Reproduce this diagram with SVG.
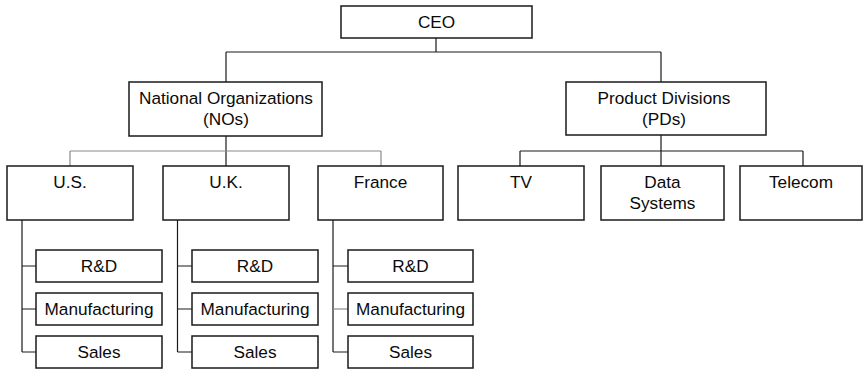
<svg xmlns="http://www.w3.org/2000/svg" width="863" height="370" viewBox="0 0 863 370">
  <style>
    .box { fill: #ffffff; stroke: #1a1a1a; stroke-width: 1.5; }
    .lbl { font-family: "Liberation Sans", Arial, sans-serif; font-size: 17.2px; fill: #0a0a0a; text-anchor: middle; }
    .ln { fill: none; stroke: #1a1a1a; stroke-width: 1.2; }
    .ln-grey { fill: none; stroke: #8a8a8a; stroke-width: 1.2; }
  </style>
  <rect width="863" height="370" fill="#ffffff"/>

  <!-- connectors -->
  <g id="connectors">
    <path class="ln" d="M436 38 V52 M226 52 H661 M226 52 V82 M661 52 V82"/>
    <path class="ln" d="M226 136 V166"/>
    <path class="ln-grey" d="M70 151 H381 M70 151 V166 M381 151 V166"/>
    <path class="ln" d="M661 135 V166 M520 151 H803 M520 151 V166 M803 151 V166"/>
    <path class="ln" d="M22 220 V352 M22 266 H36 M22 309 H36 M22 352 H36"/>
    <path class="ln" d="M177.5 220 V352 M177.5 266 H192 M177.5 309 H192 M177.5 352 H192"/>
    <path class="ln" d="M333 220 V352 M333 266 H348 M333 352 H348"/>
    <path class="ln-grey" d="M333 309 H348"/>
  </g>

  <!-- top level -->
  <g id="ceo"><rect class="box" x="341" y="6" width="191" height="32"/><text class="lbl" x="436.5" y="28">CEO</text></g>

  <!-- second level -->
  <g id="nos"><rect class="box" x="129" y="82" width="193" height="54"/><text class="lbl" x="226" y="104">National Organizations</text><text class="lbl" x="226" y="125">(NOs)</text></g>
  <g id="pds"><rect class="box" x="566" y="82" width="200" height="53"/><text class="lbl" x="664" y="104">Product Divisions</text><text class="lbl" x="664" y="125">(PDs)</text></g>

  <!-- countries and divisions -->
  <g id="us"><rect class="box" x="7" y="166" width="126" height="54"/><text class="lbl" x="70" y="188">U.S.</text></g>
  <g id="uk"><rect class="box" x="163" y="166" width="126" height="54"/><text class="lbl" x="226" y="188">U.K.</text></g>
  <g id="france"><rect class="box" x="318" y="166" width="125" height="54"/><text class="lbl" x="380.5" y="188">France</text></g>
  <g id="tv"><rect class="box" x="458" y="166" width="126" height="54"/><text class="lbl" x="521" y="188">TV</text></g>
  <g id="data"><rect class="box" x="601" y="166" width="123" height="54"/><text class="lbl" x="662.5" y="188">Data</text><text class="lbl" x="662.5" y="209">Systems</text></g>
  <g id="telecom"><rect class="box" x="740" y="166" width="122" height="54"/><text class="lbl" x="801" y="188">Telecom</text></g>

  <!-- functions under U.S. -->
  <g id="us-rd"><rect class="box" x="36" y="250" width="126" height="32"/><text class="lbl" x="99" y="272">R&amp;D</text></g>
  <g id="us-mfg"><rect class="box" x="36" y="293" width="126" height="32"/><text class="lbl" x="99" y="315">Manufacturing</text></g>
  <g id="us-sales"><rect class="box" x="36" y="336" width="126" height="32"/><text class="lbl" x="99" y="358">Sales</text></g>

  <!-- functions under U.K. -->
  <g id="uk-rd"><rect class="box" x="192" y="250" width="126" height="32"/><text class="lbl" x="255" y="272">R&amp;D</text></g>
  <g id="uk-mfg"><rect class="box" x="192" y="293" width="126" height="32"/><text class="lbl" x="255" y="315">Manufacturing</text></g>
  <g id="uk-sales"><rect class="box" x="192" y="336" width="126" height="32"/><text class="lbl" x="255" y="358">Sales</text></g>

  <!-- functions under France -->
  <g id="fr-rd"><rect class="box" x="348" y="250" width="125" height="32"/><text class="lbl" x="410.5" y="272">R&amp;D</text></g>
  <g id="fr-mfg"><rect class="box" x="348" y="293" width="125" height="32"/><text class="lbl" x="410.5" y="315">Manufacturing</text></g>
  <g id="fr-sales"><rect class="box" x="348" y="336" width="125" height="32"/><text class="lbl" x="410.5" y="358">Sales</text></g>
</svg>
